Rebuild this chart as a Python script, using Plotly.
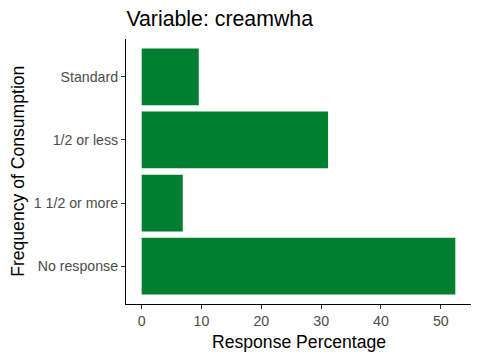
import plotly.graph_objects as go

categories = ["No response", "1 1/2 or more", "1/2 or less", "Standard"]
values = [52.43, 6.87, 31.16, 9.55]
x_ticks = [0, 10, 20, 30, 40, 50]

bar_color = "#007F31"
font_family = "Liberation Sans, Arial, sans-serif"

# page body has an 8px margin; work in window pixel coords and offset
OFF = 8
W, H = 480 - OFF, 360 - OFF
PL, PR, PT, PB = 126.4, 470.6, 39, 304  # plot area in window pixels
l, r, t, b = PL - OFF, W - (PR - OFF), PT - OFF, H - (PB - OFF)
pw, ph = W - l - r, H - t - b


def px_to_paper(xp, yp):
    return (xp - OFF - l) / pw, (H - b - (yp - OFF)) / ph


fig = go.Figure(go.Bar(
    x=values, y=categories, orientation="h",
    marker=dict(color=bar_color, line=dict(width=0)),
    width=0.9,
))

xmax = max(values)
ax, ay = px_to_paper((PL + PR) / 2, 342)
bx, by = px_to_paper(18, (PT + PB) / 2)
fig.update_layout(
    width=W, height=H,
    margin=dict(l=l, r=r, t=t, b=b, pad=0, autoexpand=False),
    paper_bgcolor="white", plot_bgcolor="white",
    showlegend=False,
    font=dict(family=font_family),
    title=dict(text="Variable: creamwha", x=(PL - OFF) / W, xanchor="left",
               y=1 - (19 - OFF) / H, yanchor="middle",
               font=dict(size=21.3, color="black", family=font_family)),
    xaxis=dict(range=[-0.05 * xmax, 1.05 * xmax], tickvals=x_ticks,
               showgrid=False, zeroline=False, showline=True,
               linecolor="black", linewidth=1.1, ticks="outside", ticklen=4,
               tickcolor="#333333", tickwidth=1.1,
               tickfont=dict(size=14.2, color="#4D4D4D"), fixedrange=True),
    yaxis=dict(range=[-0.6, 3.6], categoryorder="array", categoryarray=categories,
               showgrid=False, zeroline=False, showline=True,
               linecolor="black", linewidth=1.1, ticks="outside", ticklen=4,
               tickcolor="#333333", tickwidth=1.1,
               tickfont=dict(size=14.2, color="#4D4D4D"), fixedrange=True),
    annotations=[
        dict(text="Response Percentage", x=ax, y=ay,
             xref="paper", yref="paper", xanchor="center", yanchor="middle",
             showarrow=False, font=dict(size=17.6, color="black")),
        dict(text="Frequency of Consumption", x=bx, y=by,
             xref="paper", yref="paper", xanchor="center", yanchor="middle",
             textangle=-90, showarrow=False, font=dict(size=17.6, color="black")),
    ],
)

fig.write_html("out.html")
